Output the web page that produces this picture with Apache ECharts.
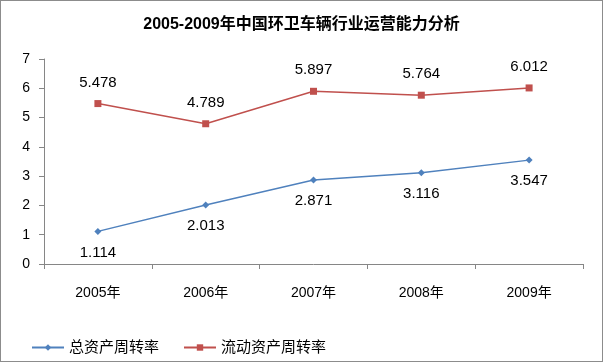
<!DOCTYPE html>
<html><head><meta charset="utf-8">
<script src="https://cdn.jsdelivr.net/npm/echarts@6/dist/echarts.min.js"></script>
<style>html,body{margin:0;padding:0;background:#fff}#c{width:603px;height:362px;box-sizing:border-box;border:1px solid #8c8c8c}</style>
</head><body><div id="c"></div>
<script>
const categories = ['2005年','2006年','2007年','2008年','2009年'];
const totalTurnover = [1.114, 2.013, 2.871, 3.116, 3.547];
const currentTurnover = [5.478, 4.789, 5.897, 5.764, 6.012];
const seriesNames = ['总资产周转率','流动资产周转率'];
const titleText = '2005-2009年中国环卫车辆行业运营能力分析';
const FONT = '"Liberation Sans","Noto Sans CJK SC",sans-serif';
const chart = echarts.init(document.getElementById('c'), null, {renderer:'canvas'});
chart.setOption({
  animation:false,
  textStyle:{fontFamily:FONT},
  title:{text:titleText,left:'center',top:11,textStyle:{fontSize:16,fontWeight:'bold',color:'#000',fontFamily:FONT}},
  legend:{left:25,top:334,itemWidth:32,itemHeight:8,itemGap:24,
    textStyle:{fontSize:15,color:'#000',fontFamily:FONT},
    data:seriesNames},
  grid:{left:43,right:19,top:58,bottom:97,containLabel:false},
  xAxis:{type:'category',data:categories,boundaryGap:true,
    axisLine:{lineStyle:{color:'#868686'}},
    axisTick:{show:true,alignWithLabel:false,length:5,lineStyle:{color:'#868686'}},
    axisLabel:{color:'#000',fontSize:14,margin:22,fontFamily:FONT},
    splitLine:{show:false}},
  yAxis:{type:'value',min:0,max:7,interval:1,
    axisLine:{show:true,lineStyle:{color:'#868686'}},
    axisTick:{show:true,length:5,lineStyle:{color:'#868686'}},
    axisLabel:{color:'#000',fontSize:14,margin:14,fontFamily:FONT},
    splitLine:{show:false}},
  series:[
    {name:seriesNames[0],type:'line',data:totalTurnover,symbol:'diamond',symbolSize:7,
      itemStyle:{color:'#4F81BD'},lineStyle:{color:'#4F81BD',width:1.5},
      label:{show:true,position:'bottom',distance:10,fontSize:15,color:'#000',fontFamily:FONT,formatter:p=>p.value.toFixed(3)}},
    {name:seriesNames[1],type:'line',data:currentTurnover,symbol:'rect',symbolSize:7,
      itemStyle:{color:'#C0504D'},lineStyle:{color:'#C0504D',width:1.5},
      label:{show:true,position:'top',distance:10,fontSize:15,color:'#000',fontFamily:FONT,formatter:p=>p.value.toFixed(3)}}
  ]
});
</script></body></html>
